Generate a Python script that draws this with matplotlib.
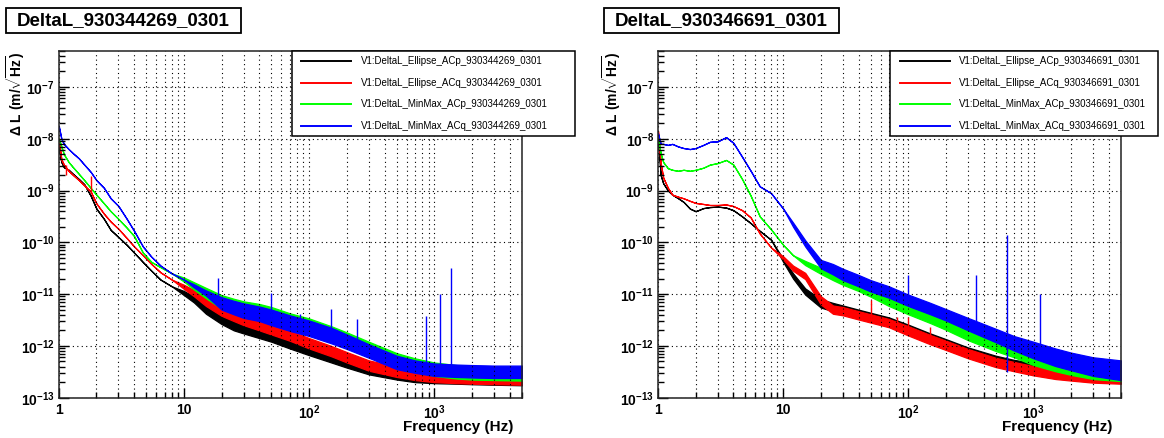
import numpy as np
import matplotlib
matplotlib.use('Agg')
import matplotlib.pyplot as plt
from matplotlib.patches import Rectangle
from matplotlib.lines import Line2D
from matplotlib.ticker import FixedLocator, FixedFormatter, NullFormatter

plt.rcParams['font.family'] = ['Liberation Sans', 'DejaVu Sans']
plt.rcParams['font.weight'] = 'bold'
plt.rcParams['mathtext.fontset'] = 'custom'
plt.rcParams['mathtext.rm'] = 'Liberation Sans:bold'
plt.rcParams['mathtext.bf'] = 'Liberation Sans:bold'
plt.rcParams['mathtext.it'] = 'Liberation Sans:bold'
plt.rcParams['mathtext.default'] = 'bf'

# frequency bins (Hz) at which the curves were read
FREQ = [1, 1.05, 1.1, 1.2, 1.3, 1.45, 1.6, 1.8, 2, 2.3, 2.6, 3, 3.5, 4, 4.7, 5.5, 6.5, 8, 10, 12,
        15, 20, 25, 30, 40, 50, 70, 100, 150, 200, 300, 500, 700, 1000, 1500, 2000, 3000, 5000]

# ---- left panel : log10(DeltaL) band centre and half width of the noise band
L_ELL_ACP = [-8.15, -8.45, -8.55, -8.6, -8.68, -8.78, -8.88, -9.1, -9.35, -9.55, -9.76, -9.9, -10.05, -10.2,
             -10.38, -10.55, -10.72, -10.85, -10.98, -11.1, -11.3, -11.48, -11.6, -11.66, -11.75, -11.82,
             -11.95, -12.08, -12.22, -12.32, -12.45, -12.55, -12.6, -12.62, -12.63, -12.64, -12.65, -12.66]
L_ELL_ACQ = [-8.0, -8.4, -8.5, -8.62, -8.7, -8.8, -8.9, -9.02, -9.25, -9.45, -9.6, -9.74, -9.92, -10.08,
             -10.25, -10.42, -10.58, -10.72, -10.86, -10.98, -11.15, -11.32, -11.42, -11.5, -11.6, -11.68,
             -11.8, -11.95, -12.1, -12.22, -12.38, -12.5, -12.56, -12.6, -12.62, -12.63, -12.64, -12.65]
L_MM_ACP = [-8.0, -8.15, -8.3, -8.45, -8.55, -8.68, -8.8, -8.95, -9.08, -9.25, -9.4, -9.55, -9.72, -9.88,
            -10.2, -10.38, -10.48, -10.6, -10.72, -10.84, -10.98, -11.15, -11.22, -11.27, -11.32, -11.38,
            -11.5, -11.6, -11.75, -11.87, -12.05, -12.27, -12.37, -12.45, -12.5, -12.52, -12.53, -12.54]
L_MM_ACQ = [-7.75, -8.0, -8.1, -8.2, -8.28, -8.38, -8.5, -8.64, -8.8, -8.95, -9.15, -9.3, -9.55, -9.78,
            -10.08, -10.28, -10.45, -10.6, -10.72, -10.84, -10.98, -11.18, -11.26, -11.32, -11.38, -11.45,
            -11.56, -11.66, -11.8, -11.92, -12.1, -12.32, -12.4, -12.46, -12.48, -12.49, -12.5, -12.5]
L_ELL_SPREAD = [0] * 18 + [0.04, 0.06, 0.08] + [0.1] * 17
L_MMP_SPREAD = [0] * 18 + [0.04, 0.07, 0.1] + [0.13] * 17
L_MMQ_SPREAD = [0] * 19 + [0.03, 0.05, 0.12, 0.13, 0.14, 0.14, 0.15, 0.15, 0.15, 0.15, 0.14, 0.13,
                           0.13, 0.12, 0.12, 0.12, 0.12, 0.12, 0.12]

# ---- right panel
R_ELL_ACP = [-7.95, -8.7, -8.86, -9.0, -9.08, -9.15, -9.22, -9.35, -9.4, -9.34, -9.32, -9.31, -9.33, -9.38,
             -9.5, -9.63, -9.78, -9.95, -10.35, -10.65, -10.95, -11.18, -11.25, -11.3, -11.38, -11.44,
             -11.53, -11.68, -11.85, -11.96, -12.12, -12.28, -12.36, -12.42, -12.5, -12.53, -12.56, -12.58]
R_ELL_ACQ = [-7.85, -8.47, -8.75, -8.95, -9.08, -9.12, -9.15, -9.2, -9.24, -9.26, -9.28, -9.28, -9.27, -9.3,
             -9.38, -9.52, -9.83, -10.1, -10.3, -10.5, -10.65, -11.12, -11.3, -11.33, -11.41, -11.47,
             -11.56, -11.71, -11.88, -11.99, -12.15, -12.32, -12.4, -12.48, -12.55, -12.58, -12.62, -12.64]
R_MM_ACP = [-8.0, -8.28, -8.45, -8.57, -8.6, -8.62, -8.6, -8.62, -8.6, -8.56, -8.5, -8.47, -8.41, -8.5,
            -8.78, -9.1, -9.5, -9.75, -10.05, -10.25, -10.4, -10.55, -10.65, -10.74, -10.86, -10.97,
            -11.15, -11.3, -11.47, -11.6, -11.8, -12.0, -12.12, -12.25, -12.37, -12.44, -12.52, -12.56]
R_MM_ACQ = [-7.9, -8.1, -8.1, -8.12, -8.1, -8.15, -8.18, -8.2, -8.18, -8.12, -8.06, -8.05, -7.97, -8.08,
            -8.35, -8.62, -8.92, -9.05, -9.35, -9.66, -10.02, -10.42, -10.52, -10.62, -10.74, -10.84,
            -10.96, -11.12, -11.28, -11.4, -11.58, -11.8, -11.95, -12.08, -12.22, -12.3, -12.4, -12.47]
R_ELL_SPREAD = [0] * 18 + [0.03, 0.05, 0.06] + [0.08] * 6 + [0.09] * 11
R_MMP_SPREAD = [0] * 20 + [0.04, 0.06] + [0.08] * 5 + [0.09] * 4 + [0.1] * 2 + [0.12] * 5
R_MMQ_SPREAD = [0] * 19 + [0.04, 0.06, 0.08, 0.1] + [0.11] * 7 + [0.12, 0.13, 0.14, 0.16, 0.17, 0.17, 0.18, 0.19]

# narrow lines (freq, log10 top, log10 base)
L_BLUE_SPIKE_F = [18.6, 50, 84, 150, 239, 850, 1110, 1350]
L_BLUE_SPIKE_TOP = [-10.68, -10.97, -11.38, -11.28, -11.49, -11.42, -11.0, -10.5]
L_BLUE_SPIKE_BASE = [-11.1, -11.5, -11.7, -11.9, -12.05, -12.45, -12.5, -12.5]
L_RED_SPIKE_F = [1.14, 1.8]
L_RED_SPIKE_TOP = [-8.5, -8.72]
L_RED_SPIKE_BASE = [-8.7, -9.05]
R_BLUE_SPIKE_F = [100, 350, 612, 1120]
R_BLUE_SPIKE_TOP = [-10.63, -10.63, -9.86, -11.0]
R_BLUE_SPIKE_BASE = [-11.2, -11.7, -12.5, -12.2]
R_RED_SPIKE_F = [50, 81, 100, 150]
R_RED_SPIKE_TOP = [-11.11, -11.44, -11.45, -11.63]
R_RED_SPIKE_BASE = [-11.5, -11.6, -11.75, -11.9]

TITLES = ['DeltaL_930344269_0301', 'DeltaL_930346691_0301']
RUNS = ['930344269_0301', '930346691_0301']
NAMES = ['Ellipse_ACp', 'Ellipse_ACq', 'MinMax_ACp', 'MinMax_ACq']
COLORS = ['#000000', '#ff0000', '#00ff00', '#0000ff']

W, H = 1164, 438


def fx(x):
    return x / W


def fy(y):
    return 1 - y / H


fig = plt.figure(figsize=(W / 100, H / 100), dpi=100)
fig.patch.set_facecolor('white')


def band(ax, centre, spread, color):
    c = np.array(centre)
    s = np.array(spread)
    ax.fill_between(FREQ, 10.0 ** (c - s), 10.0 ** (c + s), color=color, ec=color, lw=0.9)


def spikes(ax, f, top, base, color):
    ax.vlines(f, 10.0 ** np.array(base), 10.0 ** np.array(top), color=color, lw=1.0)


def style(ax):
    ax.set_xscale('log')
    ax.set_yscale('log')
    ax.set_xlim(1, 5000)
    ax.set_ylim(1e-13, 5e-7)
    ax.xaxis.set_major_locator(FixedLocator([1, 10, 100, 1000]))
    ax.xaxis.set_major_formatter(FixedFormatter(['1', '10', r'$10^{2}$', r'$10^{3}$']))
    ax.xaxis.set_minor_locator(FixedLocator([k * 10 ** d for d in range(4) for k in range(2, 10)
                                             if k * 10 ** d <= 5000]))
    ax.xaxis.set_minor_formatter(NullFormatter())
    yexp = list(range(-13, -6))
    ax.yaxis.set_major_locator(FixedLocator([10.0 ** e for e in yexp]))
    ax.yaxis.set_major_formatter(FixedFormatter([r'$10^{%d}$' % e for e in yexp]))
    ax.yaxis.set_minor_locator(FixedLocator([k * 10.0 ** d for d in range(-13, -6) for k in range(2, 10)
                                             if k * 10.0 ** d <= 5e-7]))
    ax.yaxis.set_minor_formatter(NullFormatter())
    ax.tick_params(which='major', direction='in', length=7.5, width=1, labelsize=10)
    ax.tick_params(which='minor', direction='in', length=4.5, width=1)
    ax.tick_params(axis='x', which='major', pad=4)
    ax.tick_params(axis='y', which='major', pad=3)
    ax.grid(True, axis='x', which='both', ls=(0, (1, 3)), color='k', lw=0.8)
    ax.grid(True, axis='y', which='major', ls=(0, (1, 3)), color='k', lw=0.8)
    for sp in ax.spines.values():
        sp.set_linewidth(1.1)
        sp.set_color('#222222')


axL = fig.add_axes([fx(58.7), fy(397.7), (522 - 58.7) / W, (397.7 - 50.7) / H])
axR = fig.add_axes([fx(658), fy(397.7), (1121 - 658) / W, (397.7 - 50.7) / H])

band(axL, L_ELL_ACP, L_ELL_SPREAD, COLORS[0])
band(axL, L_ELL_ACQ, L_ELL_SPREAD, COLORS[1])
spikes(axL, L_RED_SPIKE_F, L_RED_SPIKE_TOP, L_RED_SPIKE_BASE, COLORS[1])
band(axL, L_MM_ACP, L_MMP_SPREAD, COLORS[2])
band(axL, L_MM_ACQ, L_MMQ_SPREAD, COLORS[3])
spikes(axL, L_BLUE_SPIKE_F, L_BLUE_SPIKE_TOP, L_BLUE_SPIKE_BASE, COLORS[3])

band(axR, R_ELL_ACP, R_ELL_SPREAD, COLORS[0])
band(axR, R_ELL_ACQ, R_ELL_SPREAD, COLORS[1])
spikes(axR, R_RED_SPIKE_F, R_RED_SPIKE_TOP, R_RED_SPIKE_BASE, COLORS[1])
band(axR, R_MM_ACP, R_MMP_SPREAD, COLORS[2])
band(axR, R_MM_ACQ, R_MMQ_SPREAD, COLORS[3])
spikes(axR, R_BLUE_SPIKE_F, R_BLUE_SPIKE_TOP, R_BLUE_SPIKE_BASE, COLORS[3])

for ax in (axL, axR):
    style(ax)

# title boxes, axis labels and legends, positioned in figure pixels
panels = [
    dict(ax=axL, title_box=(6, 241), ylab_x=16, leg=(292, 575), leg_line=(301, 351), leg_text=361),
    dict(ax=axR, title_box=(604, 839), ylab_x=612, leg=(890, 1158), leg_line=(900, 950), leg_text=959),
]
for i, p in enumerate(panels):
    x0, x1 = p['title_box']
    fig.patches.append(Rectangle((fx(x0), fy(33.3)), (x1 - x0) / W, 25 / H, transform=fig.transFigure,
                                 fill=False, ec='black', lw=1.3))
    fig.text(fx((x0 + x1) / 2), fy(21), TITLES[i], ha='center', va='center', fontsize=13.5,
             fontweight='bold')

    fig.text(fx(p['ylab_x']), fy(52), r'$\Delta$ L (m/$\sqrt{\mathbf{Hz}}$)', rotation=90,
             ha='center', va='top', fontsize=10, fontweight='bold')
    pos = p['ax'].get_position()
    fig.text(pos.x1 - 9 / W, fy(427), 'Frequency (Hz)', ha='right', va='center', fontsize=11,
             fontweight='bold')

    l0, l1 = p['leg']
    fig.patches.append(Rectangle((fx(l0), fy(136)), (l1 - l0) / W, (136 - 51) / H,
                                 transform=fig.transFigure, fc='white', ec='black', lw=1.1, zorder=5))
    for j, name in enumerate(NAMES):
        yy = fy(61 + 21.7 * j)
        fig.lines.append(Line2D([fx(p['leg_line'][0]), fx(p['leg_line'][1])], [yy, yy],
                                transform=fig.transFigure, color=COLORS[j], lw=1.4, zorder=6))
        fig.text(fx(p['leg_text']), yy, 'V1:DeltaL_%s_%s' % (name, RUNS[i]), ha='left', va='center',
                 fontsize=7, fontweight='normal', zorder=7)

fig.savefig('out.png', dpi=100, facecolor='white')
